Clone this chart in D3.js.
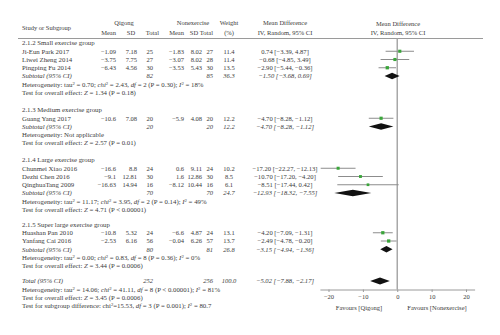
<!DOCTYPE html>
<html>
<head>
<meta charset="utf-8">
<script src="https://cdn.jsdelivr.net/npm/d3@7"></script>
<style>
  html, body { margin: 0; padding: 0; background: #fff; }
  svg text { font-family: "Liberation Serif", "DejaVu Serif", serif; fill: #3a3a3a; }
</style>
</head>
<body>
<svg id="chart" width="500" height="335"></svg>
<script>
// Study-level data
const studies = ["Ji-Eun Park 2017", "Liwei Zheng 2014", "Pingping Fu 2014", "Guang Yang 2017",
  "Chunmei Xiao 2016", "Dezhi Chen 2016", "QinghuaTang 2009", "Huashan Pan 2010", "Yanfang Cai 2016"];
const studyGroup = [0, 0, 0, 1, 2, 2, 2, 3, 3];
const qMean = [-1.09, -3.75, -6.43, -10.6, -16.6, -9.1, -16.63, -10.8, -2.53];
const qSD = [7.18, 7.75, 4.56, 7.08, 8.8, 12.81, 14.94, 5.32, 6.16];
const qN = [25, 27, 30, 20, 24, 30, 16, 24, 56];
const nMean = [-1.83, -3.07, -3.53, -5.9, 0.6, 1.6, -8.12, -6.6, -0.04];
const nSD = [8.02, 8.02, 5.43, 4.08, 9.11, 12.86, 10.44, 4.87, 6.26];
const nN = [27, 28, 30, 20, 24, 30, 16, 24, 57];
const weight = [11.4, 11.4, 13.5, 12.2, 10.2, 8.5, 6.1, 13.1, 13.7];
const md = [0.74, -0.68, -2.90, -4.70, -17.20, -10.70, -8.51, -4.20, -2.49];
const mdLo = [-3.39, -4.85, -5.44, -8.28, -22.27, -17.20, -17.44, -7.09, -4.78];
const mdHi = [4.87, 3.49, -0.36, -1.12, -12.13, -4.20, 0.42, -1.31, -0.20];

// Subgroup summaries
const groups = ["2.1.2 Small exercise group", "2.1.3 Medium exercise group",
  "2.1.4 Large exercise group", "2.1.5 Super large exercise group"];
const subQN = [82, 20, 70, 80];
const subNN = [85, 20, 70, 81];
const subWeight = [36.3, 12.2, 24.7, 26.8];
const subMd = [-1.50, -4.70, -12.93, -3.15];
const subLo = [-3.68, -8.28, -18.32, -4.94];
const subHi = [0.69, -1.12, -7.55, -1.36];
// heterogeneity: [tau2, chi2, df, P, I2] (null = not applicable)
const subHet = [["0.70", "2.43", "2", "= 0.30", "18%"], null,
  ["11.17", "3.95", "2", "= 0.14", "49%"], ["0.00", "0.83", "8", "= 0.36", "0%"]];
const subZ = [["1.34", "= 0.18"], ["2.57", "= 0.01"], ["4.71", "< 0.00001"], ["3.44", "= 0.0006"]];

// Overall
const totQN = 252, totNN = 256, totWeight = 100.0;
const totMd = -5.02, totLo = -7.88, totHi = -2.17;
const totHet = ["14.06", "41.11", "8", "< 0.00001", "81%"];
const totZ = ["3.45", "= 0.0006"];
const subgroupTest = ["15.53", "3", "= 0.001", "80.7"];

// Axis
const tickValues = [-20, -10, 0, 10, 20];
const favours = ["Favours [Qigong]", "Favours [Nonexercise]"];

const svg = d3.select("#chart");
const FS = 6.8;      // labels and notes
const FN = 6.5;      // numeric table columns
const FC = 6.6;      // confidence-interval column
const minus = s => String(s).replace(/-/g, "\u2212");
const f2 = v => minus(v.toFixed(2));
const ciText = (m, l, h) => `${f2(m)} [${f2(l)}, ${f2(h)}]`;

const x = d3.scaleLinear().domain([-20, 20]).range([328.5, 466]);
const col = { name: 22, qMean: 116, qSD: 137, qN: 153, nMean: 184, nSD: 202, nN: 213, w: 229, ci: 285 };

function txt(xp, y, s, anchor = "start", italic = false, size = FS) {
  return svg.append("text").attr("x", xp).attr("y", y).attr("dy", "0.35em")
    .attr("font-size", size).attr("text-anchor", anchor)
    .attr("font-style", italic ? "italic" : null).text(s);
}
const num = (xp, y, s, italic = false) => txt(xp, y, s, "end", italic, FN);
function richTxt(xp, y, parts) {
  const t = svg.append("text").attr("x", xp).attr("y", y).attr("dy", "0.35em").attr("font-size", FS);
  parts.forEach(p => {
    const sp = t.append("tspan").text(p.t);
    if (p.i) sp.attr("font-style", "italic");
    if (p.sup) sp.attr("font-size", FS * 0.7).attr("baseline-shift", "super");
  });
  return t;
}
function hetParts(h) {
  return [{ t: "Heterogeneity: tau" }, { t: "2", sup: 1 }, { t: ` = ${h[0]}; ` }, { t: "chi", i: 1 }, { t: "2", sup: 1 },
    { t: ` = ${h[1]}, ` }, { t: "df", i: 1 }, { t: ` = ${h[2]} (P ${h[3]}); ` }, { t: "I", i: 1 }, { t: "2", sup: 1 }, { t: ` = ${h[4]}` }];
}

// Header
txt(124, 23, "Qigong", "middle", false, FN);
txt(193, 23, "Nonexercise", "middle", false, FN);
txt(229, 23, "Weight", "middle", false, FN);
txt(285, 23, "Mean Difference", "middle", false, FN);
txt(398, 23.5, "Mean Difference", "middle", false, FN);
txt(col.name, 28, "Study or Subgroup", "start", false, FN);
txt(col.qMean, 33, "Mean", "end", false, FN);
txt(131, 33, "SD", "middle", false, FN);
txt(159, 33, "Total", "end", false, FN);
txt(col.nMean, 33, "Mean", "end", false, FN);
txt(194, 33, "SD", "middle", false, FN);
txt(col.nN, 33, "Total", "end", false, FN);
txt(229, 33, "(%)", "middle", false, FN);
txt(285, 33, "IV, Random, 95% CI", "middle", false, FN);
txt(398, 33, "IV, Random, 95% CI", "middle", false, FN);

const lineCol = "#9a9a9a";
svg.append("line").attr("x1", 18).attr("x2", 483).attr("y1", 38.5).attr("y2", 38.5)
  .attr("stroke", lineCol).attr("stroke-width", 1);

const axisY = 289.5;
svg.append("line").attr("x1", x(0)).attr("x2", x(0)).attr("y1", 38.5).attr("y2", axisY)
  .attr("stroke", "#a8a8a8").attr("stroke-width", 1.5);

// Group blocks
const groupY = [43, 110, 160, 224.5];
const rowH = 8.25;

function diamond(y, m, l, h, hh) {
  svg.append("path")
    .attr("d", `M${x(l)},${y} L${x(m)},${y - hh} L${x(h)},${y} L${x(m)},${y + hh} Z`)
    .attr("fill", "#111");
}

groups.forEach((g, gi) => {
  let y = groupY[gi];
  txt(col.name, y, g);
  const idx = studies.map((_, i) => i).filter(i => studyGroup[i] === gi);
  idx.forEach(i => {
    y += rowH;
    txt(col.name, y, studies[i]);
    num(col.qMean, y, minus(qMean[i]));
    num(col.qSD, y, qSD[i]);
    num(col.qN, y, qN[i]);
    num(col.nMean, y, minus(nMean[i]));
    num(col.nSD, y, nSD[i]);
    num(col.nN, y, nN[i]);
    txt(col.w, y, weight[i].toFixed(1), "middle", false, FN);
    txt(col.ci, y, ciText(md[i], mdLo[i], mdHi[i]), "middle", false, FC);
    svg.append("line").attr("x1", x(mdLo[i])).attr("x2", x(mdHi[i])).attr("y1", y).attr("y2", y)
      .attr("stroke", "#8c8c8c").attr("stroke-width", 1);
    const s = 2.2 + weight[i] * 0.08;
    svg.append("rect").attr("x", x(md[i]) - s / 2).attr("y", y - s / 2).attr("width", s).attr("height", s)
      .attr("fill", "#3aa53a");
  });
  y += rowH;
  txt(col.name, y, "Subtotal (95% CI)", "start", true);
  num(col.qN, y, subQN[gi], true);
  num(col.nN, y, subNN[gi], true);
  txt(col.w, y, subWeight[gi].toFixed(1), "middle", true, FN);
  txt(col.ci, y, ciText(subMd[gi], subLo[gi], subHi[gi]), "middle", true, FC);
  diamond(y, subMd[gi], subLo[gi], subHi[gi], 3.2);
  y += rowH;
  if (subHet[gi]) richTxt(col.name, y, hetParts(subHet[gi]));
  else txt(col.name, y, "Heterogeneity: Not applicable");
  y += rowH;
  richTxt(col.name, y, [{ t: "Test for overall effect: " }, { t: "Z", i: 1 }, { t: ` = ${subZ[gi][0]} (P ${subZ[gi][1]})` }]);
});

// Overall
let ty = 281;
txt(col.name, ty, "Total (95% CI)", "start", true);
num(col.qN, ty, totQN, true);
num(col.nN, ty, totNN, true);
txt(col.w, ty, totWeight.toFixed(1), "middle", true, FN);
txt(col.ci, ty, ciText(totMd, totLo, totHi), "middle", true, FC);
diamond(ty, totMd, totLo, totHi, 3.5);
ty += rowH;
richTxt(col.name, ty, hetParts(totHet));
ty += rowH;
richTxt(col.name, ty, [{ t: "Test for overall effect: " }, { t: "Z", i: 1 }, { t: ` = ${totZ[0]} (P ${totZ[1]})` }]);
ty += rowH;
richTxt(col.name, ty, [{ t: "Test for subgroup difference: chi" }, { t: "2", sup: 1 },
  { t: `=${subgroupTest[0]}, ` }, { t: "df", i: 1 }, { t: ` = ${subgroupTest[1]} (P ${subgroupTest[2]}); ` },
  { t: "I", i: 1 }, { t: "2", sup: 1 }, { t: ` = ${subgroupTest[3]}` }]);

// Axis
const axisScale = x.copy().domain([-22.5, 22.5]).range([x(-22.5), x(22.5)]);
const axis = d3.axisBottom(axisScale).tickValues(tickValues).tickSize(2.5).tickSizeOuter(0)
  .tickFormat(d => minus(d));
const ag = svg.append("g").attr("transform", `translate(0,${axisY})`).call(axis);
ag.select(".domain").attr("stroke", lineCol);
ag.selectAll(".tick line").attr("stroke", lineCol);
ag.selectAll(".tick text").attr("font-size", FN).attr("font-family", "Liberation Serif, serif")
  .attr("fill", "#3a3a3a").attr("y", 5);
txt(359, 307.7, favours[0], "middle", false, FN);
txt(437, 307.7, favours[1], "middle", false, FN);
</script>
</body>
</html>
